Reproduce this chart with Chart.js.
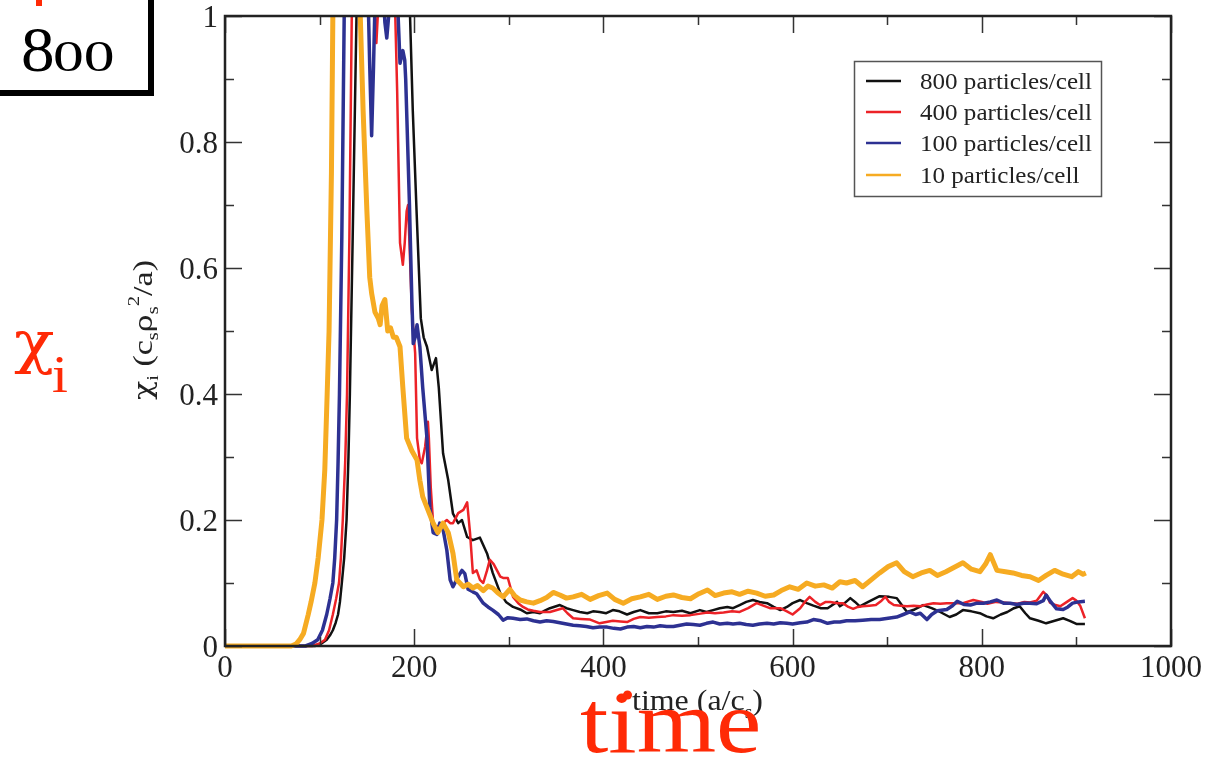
<!DOCTYPE html>
<html>
<head>
<meta charset="utf-8">
<script src="https://cdn.jsdelivr.net/npm/chart.js@4.4.1/dist/chart.umd.min.js"></script>
<style>
  html, body { margin: 0; padding: 0; background: #fff; }
  #wrap { position: relative; width: 1206px; height: 760px; }
</style>
</head>
<body>
<div id="wrap"><canvas id="chart-chi"></canvas></div>
<script>
// series labels
const seriesLabels = ["800 particles/cell", "400 particles/cell", "100 particles/cell", "10 particles/cell"];

// [time, chi_i] (values > 1 run off the top of the frame)
const ser800 = [
  [0,0],[95,0],[102,0.004],[107.5,0.01],[111,0.017],[114,0.025],[117,0.037],[119.5,0.05],[121.5,0.07],[123.5,0.1],[126,0.14],
  [128.5,0.2],[130.5,0.3],[132,0.4],[135,0.65],[139,1.0],[143,1.4],
  [192,1.4],[195.6,1.0],[198.5,0.85],[202.5,0.69],[207,0.52],[210,0.49],[213.5,0.475],[218.5,0.438],[223,0.457],[226,0.41],
  [230.5,0.306],[236,0.263],[241,0.21],[246.5,0.195],[250.5,0.2],[256,0.173],[262,0.168],[269.5,0.172],[277,0.147],[283,0.116],
  [291,0.084],[297,0.07],[304.5,0.062],[312,0.058],[319,0.052],[326,0.054],[333,0.052],[338,0.056],[343.5,0.06],[354,0.065],
  [361,0.06],[368,0.057],[375,0.054],[383,0.052],[389,0.055],[396,0.054],[403,0.052],[410,0.057],[417,0.055],[425,0.05],
  [432,0.054],[439,0.057],[448,0.052],[457,0.052],[466,0.055],[474,0.054],[483,0.056],[492,0.052],[502,0.057],[509,0.054],
  [516,0.057],[523,0.06],[531,0.062],[537,0.06],[544,0.065],[551,0.07],[558,0.073],[565,0.07],[573,0.068],[580,0.062],
  [587,0.057],[594,0.062],[600,0.068],[608,0.073],[615,0.068],[622,0.064],[630,0.06],[637,0.06],[647,0.07],[650,0.063],
  [655,0.068],[661,0.076],[666,0.07],[671,0.063],[680,0.07],[692,0.079],[702,0.078],[710,0.076],[716,0.064],[721,0.054],
  [729,0.058],[738,0.065],[747,0.06],[756,0.054],[766,0.046],[773,0.05],[780,0.057],[789,0.055],[798,0.052],[805,0.047],
  [812,0.044],[820,0.05],[827,0.054],[834,0.06],[840,0.063],[846,0.052],[851,0.044],[860,0.04],[868,0.036],[877,0.04],
  [886,0.044],[893,0.04],[900,0.035],[909,0.035]
];
const ser400 = [
  [0,0],[92,0],[100,0.004],[105.7,0.01],[110,0.025],[114,0.05],[117.5,0.075],[120.5,0.1],[122.5,0.14],[124.5,0.2],
  [127,0.29],[129,0.4],[131.5,0.65],[134,1.0],[138,1.4],
  [156,1.4],[158.5,1.0],[160,0.957],[161.5,1.0],[165,1.4],[176,1.4],[180,1.0],[182,0.88],[183,0.8],[185,0.64],[188,0.605],
  [190,0.64],[192,0.69],[193.5,0.7],[195,0.64],[197.5,0.533],[201,0.465],[203,0.33],[206,0.295],[208,0.29],[211.5,0.316],
  [214.5,0.356],[215.5,0.33],[217.5,0.252],[220,0.195],[223,0.19],[227,0.19],[230.5,0.195],[234.5,0.2],[238,0.195],[241,0.195],
  [246.5,0.211],[252,0.216],[256,0.228],[259,0.18],[262,0.116],[266,0.12],[269.5,0.105],[273,0.1],[277,0.12],[280,0.137],
  [284,0.13],[287.5,0.12],[291,0.11],[294,0.108],[299,0.108],[304.5,0.078],[310,0.068],[315,0.062],[320,0.058],[326,0.056],
  [333,0.054],[343.5,0.054],[357,0.06],[362,0.052],[368,0.044],[376,0.043],[386,0.042],[396,0.036],[403,0.038],[410,0.04],
  [418,0.039],[425,0.038],[432,0.043],[439,0.046],[448,0.045],[457,0.046],[466,0.047],[474,0.049],[483,0.048],[492,0.049],
  [501,0.051],[510,0.053],[518,0.052],[527,0.053],[536,0.055],[544,0.054],[553,0.06],[562,0.068],[569,0.064],[576,0.06],
  [587,0.06],[594,0.055],[600,0.05],[608,0.06],[613,0.07],[618,0.078],[624,0.07],[629,0.065],[635,0.07],[640,0.07],
  [647,0.068],[653,0.068],[659,0.062],[664,0.059],[669,0.062],[674,0.063],[681,0.064],[688,0.065],[694,0.072],[698,0.078],
  [702,0.07],[707,0.065],[714,0.064],[721,0.063],[728,0.064],[735,0.063],[742,0.066],[749,0.068],[756,0.067],[763,0.068],
  [772,0.068],[780,0.068],[791,0.073],[800,0.07],[806,0.067],[815,0.07],[823,0.069],[830,0.068],[838,0.067],[845,0.07],
  [851,0.069],[858,0.072],[865,0.086],[869,0.08],[872,0.069],[878,0.065],[883,0.063],[890,0.07],[896,0.076],[900,0.072],
  [904,0.064],[909,0.044]
];
const ser100 = [
  [0,0],[85,0],[92,0.004],[98,0.01],[103,0.025],[107.5,0.05],[111,0.075],[114,0.1],[116,0.14],[118,0.2],[119.5,0.29],
  [121,0.4],[123.5,0.65],[126,1.0],[130,1.4],
  [148,1.4],[151,1.05],[153,0.92],[155,0.81],[157,0.92],[159,1.05],[163,1.3],[167,1.05],[169,0.99],[171,0.965],[173,1.0],
  [176,1.2],[181,1.2],[183,1.0],[185,0.925],[188,0.945],[190,0.93],[191,0.9],[193,0.8],[195,0.7],[197.5,0.55],[199,0.48],
  [201,0.49],[203,0.51],[206,0.475],[209,0.41],[213.5,0.33],[216.5,0.22],[220,0.18],[224,0.177],[227,0.195],[230.5,0.185],
  [234.5,0.152],[238,0.105],[241,0.094],[246.5,0.11],[250.5,0.12],[253.5,0.115],[257,0.09],[262,0.086],[266,0.083],[273,0.068],
  [278,0.062],[283,0.057],[289,0.05],[294,0.041],[299,0.045],[304.5,0.044],[312,0.042],[319,0.043],[326,0.04],[333,0.038],
  [340,0.04],[347,0.039],[354,0.037],[361,0.035],[368,0.033],[375,0.032],[382,0.031],[389,0.029],[396,0.03],[404,0.03],
  [411,0.028],[418,0.027],[425,0.03],[432,0.031],[439,0.029],[446,0.031],[453,0.03],[460,0.032],[467,0.031],[474,0.031],
  [481,0.033],[488,0.035],[495,0.034],[502,0.033],[509,0.036],[516,0.038],[523,0.035],[531,0.036],[537,0.035],[544,0.036],
  [551,0.034],[558,0.033],[565,0.035],[573,0.036],[580,0.035],[587,0.037],[594,0.036],[600,0.035],[608,0.037],[615,0.038],
  [622,0.042],[630,0.04],[637,0.036],[644,0.038],[650,0.038],[657,0.04],[666,0.04],[674,0.041],[683,0.042],[692,0.042],
  [701,0.044],[710,0.046],[717,0.05],[724,0.054],[730,0.05],[735,0.052],[742,0.042],[747,0.05],[753,0.056],[763,0.058],
  [769,0.064],[774,0.071],[781,0.066],[788,0.065],[795,0.068],[802,0.068],[809,0.07],[816,0.073],[823,0.068],[830,0.068],
  [837,0.066],[844,0.068],[851,0.068],[858,0.067],[865,0.072],[868,0.081],[873,0.07],[879,0.059],[886,0.058],[891,0.062],
  [896,0.068],[902,0.07],[909,0.071]
];
const ser10 = [
  [0,0],[70,0],[75,0.003],[79,0.01],[83,0.02],[88,0.05],[91,0.07],[95,0.1],[98.5,0.14],[102.5,0.2],[105.5,0.28],
  [108,0.4],[110,0.5],[111,0.6],[112.5,0.75],[114,1.0],[118,1.4],
  [140,1.4],[143,1.0],[146,0.85],[150,0.69],[153,0.585],[155,0.56],[158.5,0.53],[162,0.52],[164,0.51],[166,0.54],[169,0.55],
  [172,0.5],[175,0.505],[178,0.49],[181,0.49],[185,0.475],[188,0.41],[192,0.33],[197.5,0.31],[203,0.295],[206,0.263],
  [209,0.237],[214.5,0.216],[220,0.195],[225,0.18],[230.5,0.195],[236,0.18],[241,0.147],[245,0.105],[252,0.094],[257,0.098],
  [262,0.092],[267,0.096],[273,0.088],[278,0.095],[283,0.092],[288,0.085],[294,0.078],[301,0.09],[306,0.08],[312,0.073],
  [319,0.07],[326,0.068],[333,0.072],[340,0.077],[347,0.085],[354,0.081],[361,0.076],[368,0.078],[377,0.082],[386,0.074],
  [395,0.08],[404,0.084],[412,0.074],[421,0.068],[430,0.075],[439,0.078],[448,0.082],[457,0.074],[466,0.079],[474,0.081],
  [483,0.077],[492,0.075],[501,0.083],[510,0.089],[518,0.08],[527,0.084],[536,0.086],[544,0.082],[553,0.087],[562,0.084],
  [571,0.079],[580,0.081],[588,0.088],[597,0.094],[606,0.09],[615,0.1],[624,0.095],[633,0.097],[642,0.092],[650,0.102],
  [657,0.1],[666,0.104],[674,0.094],[683,0.105],[692,0.116],[701,0.126],[710,0.132],[718,0.118],[727,0.11],[736,0.116],
  [745,0.12],[753,0.112],[762,0.118],[771,0.125],[780,0.132],[789,0.122],[798,0.118],[804,0.13],[809,0.145],[816,0.12],
  [825,0.118],[833,0.116],[842,0.112],[851,0.11],[860,0.104],[868,0.112],[877,0.12],[886,0.114],[895,0.11],[902,0.118],
  [907,0.114],[910,0.116]
];

// axis ticks
const xMajor = [0, 200, 400, 600, 800, 1000];
const xMinor = [100, 300, 500, 700, 900];
const yMajor = [0, 0.2, 0.4, 0.6, 0.8, 1];
const yMinor = [0.1, 0.3, 0.5, 0.7, 0.9];
const yTickLabels = ["0", "0.2", "0.4", "0.6", "0.8", "1"];

const colors = ["#111111", "#ec2227", "#2d3192", "#f6ab22"];
const RED = "#ff2a06";
const SERIF = "'Liberation Serif', 'DejaVu Serif', serif";
const GREEK = "'DejaVu Serif', serif";

function toPts(arr) { return arr.map(p => ({ x: p[0], y: p[1] })); }

function text(ctx, s, x, y, size, color, align, sx, family) {
  ctx.save();
  ctx.font = size + "px " + (family || SERIF);
  ctx.fillStyle = color;
  ctx.textBaseline = "alphabetic";
  ctx.textAlign = align || "left";
  ctx.translate(x, y);
  ctx.scale(sx || 1, 1);
  ctx.fillText(s, 0, 0);
  ctx.restore();
}

// run of text pieces with sub/superscripts, stretched to a given length
function richText(ctx, parts, x, y, target, color, rot) {
  ctx.save();
  const fontOf = p => p.size + "px " + (p.greek ? GREEK : SERIF);
  let total = 0;
  parts.forEach(p => { ctx.font = fontOf(p); total += ctx.measureText(p.t).width; });
  ctx.translate(x, y);
  if (rot) ctx.rotate(rot);
  ctx.scale(target / total, 1);
  ctx.fillStyle = color;
  ctx.textBaseline = "alphabetic";
  let cx = 0;
  parts.forEach(p => {
    ctx.font = fontOf(p);
    ctx.fillText(p.t, cx, p.dy || 0);
    cx += ctx.measureText(p.t).width;
  });
  ctx.restore();
}

const framePlugin = {
  id: "frame",
  afterDraw(chart) {
    const ctx = chart.ctx;
    const a = chart.chartArea;
    const xs = chart.scales.x, ys = chart.scales.y;

    // ticks on all four sides, pointing in
    ctx.save();
    ctx.strokeStyle = "#333";
    ctx.lineWidth = 1.5;
    ctx.beginPath();
    const xt = (v, len) => {
      const px = Math.round(xs.getPixelForValue(v)) + 0.5;
      ctx.moveTo(px, a.bottom); ctx.lineTo(px, a.bottom - len);
      ctx.moveTo(px, a.top); ctx.lineTo(px, a.top + len);
    };
    const yt = (v, len) => {
      const py = Math.round(ys.getPixelForValue(v)) + 0.5;
      ctx.moveTo(a.left, py); ctx.lineTo(a.left + len, py);
      ctx.moveTo(a.right, py); ctx.lineTo(a.right - len, py);
    };
    xMajor.forEach(v => xt(v, 17));
    xMinor.forEach(v => xt(v, 9));
    yMajor.forEach(v => yt(v, 17));
    yMinor.forEach(v => yt(v, 9));
    ctx.stroke();

    ctx.strokeStyle = "#222";
    ctx.lineWidth = 2.5;
    ctx.strokeRect(a.left, a.top, a.right - a.left, a.bottom - a.top);
    ctx.restore();

    // tick labels
    xMajor.forEach(v => text(ctx, String(v), xs.getPixelForValue(v), a.bottom + 31, 31, "#222", "center"));
    yMajor.forEach((v, i) => text(ctx, yTickLabels[i], a.left - 7, ys.getPixelForValue(v) + 10.5, 31, "#222", "right"));

    // axis titles
    richText(ctx, [
      { t: "time (a/c", size: 29 }, { t: "s", size: 18, dy: 8 }, { t: ")", size: 29 }
    ], 632, 710, 131, "#222");
    richText(ctx, [
      { t: "\u03c7", size: 26, greek: true }, { t: "i", size: 17, dy: 6 }, { t: " (c", size: 28 },
      { t: "s", size: 17, dy: 6 }, { t: "\u03c1", size: 25, greek: true }, { t: "s", size: 17, dy: 6 },
      { t: "2", size: 17, dy: -13 }, { t: "/a)", size: 28 }
    ], 152, 400, 140, "#222", -Math.PI / 2);

    // legend
    ctx.save();
    ctx.strokeStyle = "#555";
    ctx.lineWidth = 1.5;
    ctx.strokeRect(854.5, 61.5, 247, 135);
    const rows = [81, 112, 143, 175];
    chart.data.datasets.forEach((ds, i) => {
      ctx.strokeStyle = ds.borderColor;
      ctx.lineWidth = 2.5;
      ctx.beginPath();
      ctx.moveTo(866, rows[i]); ctx.lineTo(901, rows[i]);
      ctx.stroke();
      text(ctx, ds.label, 920, rows[i] + 7.5, 23, "#222", "left", 1.09);
    });
    ctx.restore();

    // red hand annotations
    text(ctx, "\u03c7", 14, 362, 58, RED, "left", 1.15, GREEK);
    text(ctx, "i", 52, 392, 52, RED, "left", 1.1);
    text(ctx, "time", 580, 752, 88, RED, "left", 1.16);
    ctx.save();
    ctx.fillStyle = RED;
    ctx.beginPath();
    ctx.arc(627.5, 695, 4.5, 0, Math.PI * 2);
    ctx.fill();
    ctx.fillRect(36, 0, 6, 6);
    ctx.restore();

    // "800" label box
    ctx.save();
    ctx.strokeStyle = "#000";
    ctx.lineWidth = 6;
    ctx.strokeRect(-10, -10, 161, 103);
    ctx.restore();
    text(ctx, "8", 21, 71, 64, "#000", "left", 1.05);
    text(ctx, "00", 53, 71, 44, "#000", "left", 1.4);
  }
};

const sets = [ser800, ser400, ser100, ser10];
const widths = [2.5, 2.5, 3.5, 5];
const orders = [3, 2, 1, 0];

new Chart(document.getElementById("chart-chi"), {
  type: "line",
  data: {
    datasets: sets.map((s, i) => ({
      label: seriesLabels[i],
      data: toPts(s),
      borderColor: colors[i],
      backgroundColor: colors[i],
      borderWidth: widths[i],
      pointRadius: 0,
      tension: 0,
      borderJoinStyle: "round",
      fill: false,
      order: orders[i],
      clip: { left: 4, right: 4, top: 0, bottom: 4 }
    }))
  },
  options: {
    responsive: true,
    maintainAspectRatio: false,
    animation: false,
    layout: { padding: { top: 16, right: 35, left: 0, bottom: 0 } },
    plugins: { legend: { display: false }, tooltip: { enabled: false } },
    scales: {
      x: {
        type: "linear", min: 0, max: 1000,
        ticks: { display: false, stepSize: 100 },
        grid: { display: false, drawTicks: false },
        border: { display: false },
        afterFit: s => { s.height = 114; }
      },
      y: {
        type: "linear", min: 0, max: 1,
        ticks: { display: false, stepSize: 0.1 },
        grid: { display: false, drawTicks: false },
        border: { display: false },
        afterFit: s => { s.width = 225; }
      }
    }
  },
  plugins: [framePlugin]
});
</script>
</body>
</html>
